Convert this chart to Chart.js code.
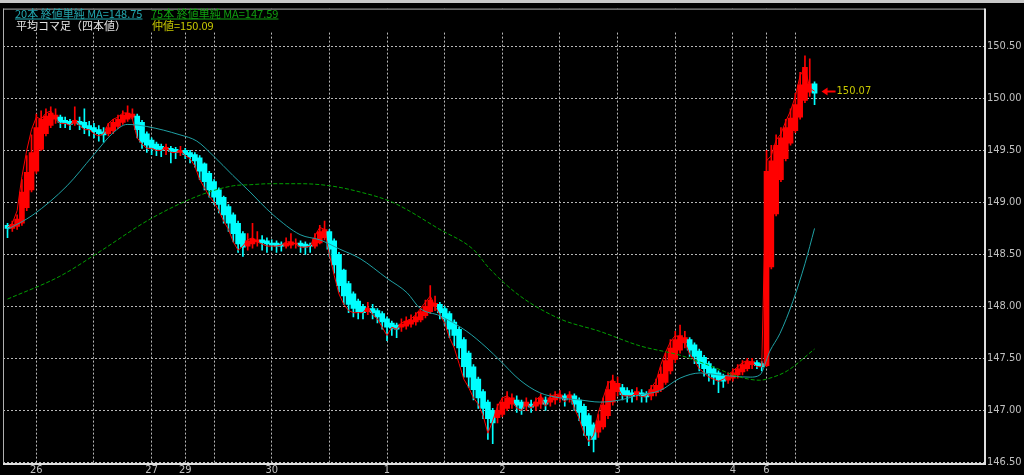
<!DOCTYPE html>
<html>
<head>
<meta charset="utf-8">
<script src="https://cdn.jsdelivr.net/npm/chart.js@4.4.0/dist/chart.umd.min.js"></script>
<style>
  html, body { margin: 0; padding: 0; background: #000; overflow: hidden; }
  canvas { display: block; }
</style>
</head>
<body>
<canvas id="chart" width="1024" height="475"></canvas>
<script>
// Heikin-Ashi candles, one per hour (index 0 = 25th 18:00)
const candleOpen = [
  148.78, 148.75, 148.77, 148.80, 148.95, 149.12, 149.30, 149.51, 149.66, 149.74,
  149.80, 149.82, 149.79, 149.78, 149.76, 149.78, 149.77, 149.74, 149.72, 149.70,
  149.68, 149.66, 149.69, 149.73, 149.77, 149.80, 149.82, 149.83, 149.77, 149.66,
  149.60, 149.56, 149.54, 149.51, 149.52, 149.51, 149.48, 149.50, 149.48, 149.46,
  149.43, 149.37, 149.28, 149.20, 149.12, 149.05, 148.96, 148.88, 148.80, 148.70,
  148.58, 148.60, 148.62, 148.64, 148.63, 148.61, 148.61, 148.60, 148.58, 148.59,
  148.60, 148.61, 148.60, 148.59, 148.58, 148.61, 148.66, 148.72, 148.63, 148.50,
  148.35, 148.22, 148.12, 148.05, 148.00, 147.95, 147.98, 147.96, 147.93, 147.88,
  147.84, 147.82, 147.80, 147.81, 147.83, 147.85, 147.87, 147.91, 147.95, 148.00,
  148.02, 147.98, 147.93, 147.85, 147.78, 147.68, 147.55, 147.42, 147.30, 147.18,
  147.08, 147.00, 146.93, 146.96, 147.02, 147.06, 147.10, 147.08, 147.04, 147.06,
  147.04, 147.06, 147.10, 147.08, 147.10, 147.12, 147.14, 147.12, 147.14, 147.10,
  147.04, 146.95, 146.86, 146.79, 146.84, 146.95, 147.08, 147.18, 147.22, 147.19,
  147.17, 147.15, 147.17, 147.16, 147.14, 147.17, 147.20, 147.27, 147.38, 147.49,
  147.58, 147.65, 147.68, 147.63, 147.57, 147.51, 147.45, 147.40, 147.36, 147.33,
  147.29, 147.31, 147.34, 147.37, 147.40, 147.44, 147.46, 147.45, 147.43, 148.38,
  148.89, 149.22, 149.42, 149.57, 149.69, 149.82, 149.98, 150.06, 150.14
];
const candleClose = [
  148.75, 148.79, 148.84, 149.10, 149.29, 149.48, 149.72, 149.80, 149.83, 149.86,
  149.84, 149.77, 149.76, 149.75, 149.79, 149.75, 149.72, 149.70, 149.68, 149.66,
  149.65, 149.72, 149.77, 149.80, 149.84, 149.86, 149.85, 149.70, 149.58, 149.55,
  149.52, 149.51, 149.50, 149.53, 149.49, 149.48, 149.50, 149.46, 149.44, 149.40,
  149.30, 149.20, 149.12, 149.05, 148.98, 148.88, 148.80, 148.70, 148.60, 148.57,
  148.63, 148.65, 148.64, 148.61, 148.60, 148.59, 148.58, 148.58, 148.61, 148.62,
  148.61, 148.58, 148.57, 148.58, 148.65, 148.72, 148.74, 148.55, 148.40, 148.20,
  148.10, 148.02, 147.98, 147.95, 147.94, 147.98, 147.94, 147.90, 147.85, 147.80,
  147.79, 147.78, 147.83, 147.86, 147.87, 147.90, 147.95, 148.00, 148.06, 148.03,
  147.94, 147.88, 147.78, 147.72, 147.60, 147.42, 147.32, 147.20, 147.12, 147.02,
  146.92, 146.88, 147.00, 147.08, 147.12, 147.12, 147.05, 147.02, 147.08, 147.03,
  147.08, 147.12, 147.06, 147.12, 147.14, 147.15, 147.10, 147.15, 147.06, 146.98,
  146.85, 146.76, 146.72, 146.90, 147.05, 147.20, 147.28, 147.26, 147.15, 147.14,
  147.14, 147.18, 147.14, 147.13, 147.20, 147.24, 147.35, 147.48, 147.60, 147.68,
  147.72, 147.70, 147.58, 147.52, 147.45, 147.40, 147.35, 147.32, 147.29, 147.28,
  147.33, 147.36, 147.40, 147.44, 147.47, 147.47, 147.43, 147.42, 149.30, 149.40,
  149.55, 149.62, 149.72, 149.81, 149.94, 150.13, 150.30, 150.14, 150.05
];
const candleHigh = [
  148.80, 148.82, 148.88, 149.22, 149.45, 149.65, 149.85, 149.88, 149.90, 149.92,
  149.90, 149.84, 149.82, 149.80, 149.92, 149.82, 149.90, 149.78, 149.76, 149.74,
  149.72, 149.76, 149.80, 149.84, 149.88, 149.93, 149.90, 149.85, 149.79, 149.68,
  149.62, 149.58, 149.56, 149.56, 149.54, 149.53, 149.54, 149.52, 149.50, 149.48,
  149.45, 149.38, 149.30, 149.22, 149.14, 149.06, 148.98, 148.90, 148.82, 148.72,
  148.70, 148.80, 148.72, 148.68, 148.66, 148.64, 148.63, 148.62, 148.66, 148.70,
  148.65, 148.63, 148.62, 148.61, 148.70, 148.78, 148.82, 148.74, 148.65, 148.52,
  148.36, 148.24, 148.14, 148.07, 148.02, 148.04, 148.02, 147.98, 147.95, 147.90,
  147.86, 147.84, 147.88, 147.90, 147.92, 147.94, 147.98, 148.06, 148.20, 148.10,
  148.04, 148.00, 147.95, 147.87, 147.80, 147.70, 147.57, 147.44, 147.32, 147.20,
  147.10, 147.02, 147.06, 147.12, 147.18, 147.16, 147.14, 147.10, 147.12, 147.10,
  147.12, 147.16, 147.13, 147.16, 147.18, 147.19, 147.16, 147.18, 147.16, 147.12,
  147.06, 146.97, 146.88, 146.96, 147.12, 147.28, 147.34, 147.32, 147.25, 147.22,
  147.20, 147.22, 147.20, 147.18, 147.24, 147.30, 147.42, 147.55, 147.68, 147.76,
  147.82, 147.76, 147.70, 147.65, 147.59, 147.53, 147.47, 147.42, 147.38, 147.35,
  147.36, 147.40, 147.44, 147.48, 147.50, 147.50, 147.48, 147.47, 149.50, 149.55,
  149.65, 149.72, 149.80, 149.90, 150.05, 150.25, 150.41, 150.38, 150.16
];
const candleLow = [
  148.66, 148.72, 148.74, 148.78, 148.92, 149.10, 149.28, 149.50, 149.64, 149.72,
  149.76, 149.72, 149.72, 149.70, 149.74, 149.70, 149.66, 149.64, 149.62, 149.59,
  149.58, 149.64, 149.66, 149.71, 149.75, 149.78, 149.80, 149.62, 149.52, 149.48,
  149.46, 149.45, 149.44, 149.46, 149.38, 149.42, 149.45, 149.42, 149.38, 149.34,
  149.22, 149.12, 149.05, 148.98, 148.90, 148.80, 148.72, 148.62, 148.52, 148.48,
  148.54, 148.56, 148.58, 148.54, 148.52, 148.54, 148.52, 148.53, 148.56, 148.56,
  148.56, 148.52, 148.50, 148.52, 148.56, 148.60, 148.64, 148.48, 148.32, 148.14,
  148.02, 147.94, 147.90, 147.88, 147.88, 147.92, 147.88, 147.84, 147.78, 147.67,
  147.72, 147.70, 147.76, 147.78, 147.80, 147.82, 147.85, 147.89, 147.93, 147.96,
  147.88, 147.82, 147.70, 147.62, 147.50, 147.32, 147.22, 147.10, 147.02, 146.92,
  146.72, 146.68, 146.88, 146.94, 147.00, 147.02, 146.98, 146.96, 147.00, 146.98,
  147.00, 147.02, 147.00, 147.04, 147.06, 147.08, 147.04, 147.08, 147.00, 146.90,
  146.76, 146.66, 146.60, 146.74, 146.82, 146.92, 147.05, 147.14, 147.10, 147.08,
  147.08, 147.10, 147.08, 147.08, 147.10, 147.14, 147.18, 147.25, 147.35, 147.46,
  147.55, 147.60, 147.52, 147.45, 147.38, 147.33, 147.28, 147.25, 147.17, 147.22,
  147.26, 147.28, 147.31, 147.34, 147.38, 147.40, 147.40, 147.38, 147.42, 148.36,
  148.87, 149.20, 149.40, 149.55, 149.67, 149.80, 149.96, 150.02, 149.94
];
// plain closing price (thin red line)
const priceClose = [
  148.76, 148.80, 148.92, 149.25, 149.50, 149.70, 149.82, 149.80, 149.86, 149.88,
  149.80, 149.76, 149.76, 149.74, 149.80, 149.74, 149.70, 149.70, 149.66, 149.64,
  149.66, 149.76, 149.80, 149.82, 149.86, 149.86, 149.80, 149.62, 149.56, 149.52,
  149.52, 149.50, 149.50, 149.54, 149.48, 149.48, 149.50, 149.45, 149.42, 149.35,
  149.22, 149.14, 149.06, 149.00, 148.92, 148.82, 148.74, 148.62, 148.54, 148.58,
  148.64, 148.66, 148.62, 148.60, 148.58, 148.58, 148.58, 148.59, 148.62, 148.62,
  148.60, 148.57, 148.57, 148.58, 148.68, 148.76, 148.74, 148.50, 148.30, 148.12,
  148.02, 147.96, 147.94, 147.94, 147.94, 148.00, 147.92, 147.88, 147.80, 147.72,
  147.80, 147.78, 147.84, 147.86, 147.88, 147.92, 147.98, 148.04, 148.10, 148.00,
  147.92, 147.84, 147.70, 147.60, 147.45, 147.30, 147.22, 147.12, 147.06, 146.95,
  146.78, 146.90, 147.04, 147.12, 147.14, 147.10, 147.02, 147.00, 147.08, 147.02,
  147.10, 147.14, 147.04, 147.14, 147.15, 147.16, 147.08, 147.16, 147.02, 146.92,
  146.78, 146.70, 146.76, 146.98, 147.12, 147.26, 147.30, 147.22, 147.14, 147.14,
  147.14, 147.18, 147.13, 147.14, 147.22, 147.28, 147.44, 147.56, 147.66, 147.72,
  147.70, 147.66, 147.54, 147.48, 147.40, 147.36, 147.32, 147.30, 147.28, 147.30,
  147.34, 147.38, 147.42, 147.46, 147.48, 147.46, 147.42, 147.42, 149.40, 149.45,
  149.60, 149.66, 149.78, 149.88, 150.02, 150.22, 150.30, 150.10, 150.07
];

// moving averages read at candle positions
const ma20Idx = [0, 5.3, 12.4, 17.8, 22, 24.9, 29, 35.9, 39.4, 42.8, 46.9, 50.5, 52.6, 55.3, 60.9, 65,
  69.2, 73.4, 79, 83.2, 85.9, 90, 95.6, 99.8, 102.5, 106.7, 110.8, 115, 119.2, 123.3, 127.5, 131.7,
  135.8, 140, 144.2, 148.3, 154.6, 156.6, 158.7, 160.8, 163.5, 166, 168];
const ma20 = [148.74, 148.88, 149.16, 149.45, 149.67, 149.75, 149.73, 149.65, 149.59, 149.45, 149.26, 149.10, 149.00, 148.88, 148.69, 148.64,
  148.55, 148.46, 148.27, 148.13, 147.98, 147.91, 147.76, 147.60, 147.48, 147.29, 147.17, 147.12, 147.10, 147.08, 147.10, 147.15,
  147.19, 147.31, 147.36, 147.34, 147.32, 147.34, 147.57, 147.74, 148.05, 148.41, 148.75];
const ma75Idx = [0, 10.9, 19.3, 29.7, 40.1, 47, 50.5, 54.6, 60.9, 67.1, 73.4, 80.2, 90, 96.9, 100.4, 106.7,
  115, 123.3, 131.7, 140, 146.2, 152.5, 156.6, 158.7, 162.3, 168];
const ma75 = [148.07, 148.29, 148.53, 148.84, 149.07, 149.16, 149.17, 149.18, 149.18, 149.16, 149.10, 149.00, 148.74, 148.55, 148.36, 148.10,
  147.88, 147.76, 147.62, 147.53, 147.43, 147.32, 147.29, 147.31, 147.38, 147.59];

// axis ticks
const gridIdx = [6, 18, 30, 37, 43, 55, 67, 79, 91, 103, 115, 127, 139, 151, 158, 164];
const gridLabels = ['26', '', '27', '29', '', '30', '', '1', '', '2', '', '3', '', '4', '6', ''];
const yTicks = [146.5, 147, 147.5, 148, 148.5, 149, 149.5, 150, 150.5];
const lastPrice = 150.07;

const UP = '#ff0000';
const DOWN = '#00ffff';
const axisFont = { family: '"Liberation Sans Narrow", "DejaVu Sans Condensed", sans-serif', size: 11 };
const candleColor = (c) => candleClose[c.dataIndex] >= candleOpen[c.dataIndex] ? UP : DOWN;

const chartBits = {
  id: 'chartBits',
  beforeDraw(chart) {
    const c = chart.ctx;
    c.save();
    c.fillStyle = '#000';
    c.fillRect(0, 0, chart.width, chart.height);
    c.fillStyle = '#c8c8c8';
    c.fillRect(0, 0, chart.width, 3);
    c.restore();
  },
  beforeDatasetsDraw(chart) {
    // vertical grid lines stop below the legend area
    const a = chart.chartArea, c = chart.ctx;
    c.save();
    c.fillStyle = '#000';
    c.fillRect(a.left, a.top, a.right - a.left, 31 - a.top);
    c.restore();
  },
  afterDraw(chart) {
    const a = chart.chartArea, c = chart.ctx;
    c.save();
    c.strokeStyle = '#b0b0b0';
    c.lineWidth = 1;
    c.beginPath();
    c.moveTo(a.left + 0.5, a.top);
    c.lineTo(a.left + 0.5, a.bottom);
    c.moveTo(a.left, a.top + 0.5);
    c.lineTo(a.right, a.top + 0.5);
    c.stroke();
    c.strokeStyle = '#e0e0e0';
    c.lineWidth = 2;
    c.beginPath();
    c.moveTo(a.right, a.top);
    c.lineTo(a.right, a.bottom + 1);
    c.lineTo(a.left, a.bottom + 1);
    c.stroke();

    // legend
    c.font = '11px "Noto Sans CJK JP"';
    c.textBaseline = 'middle';
    c.textAlign = 'left';
    const rows = [
      ['20本 終値単純 MA=148.75', '#22a8b0', 15, 13.5, true],
      ['75本 終値単純 MA=147.59', '#10a010', 151, 13.5, true],
      ['平均コマ足（四本値）', '#e6e6e6', 16, 26, false],
      ['仲値=150.09', '#c8c800', 152, 26, false]
    ];
    rows.forEach(([t, col, x, y, ul]) => {
      c.fillStyle = col;
      c.fillText(t, x, y);
      if (ul) {
        const w = c.measureText(t).width;
        c.fillRect(x, y + 5, w, 1);
      }
    });

    // last price marker
    const px = chart.scales.x.getPixelForValue(candleClose.length - 1) + 7;
    const py = Math.round(chart.scales.y.getPixelForValue(lastPrice)) + 0.5;
    c.strokeStyle = UP;
    c.fillStyle = UP;
    c.lineWidth = 2;
    c.beginPath();
    c.moveTo(px + 3, py);
    c.lineTo(px + 14, py);
    c.stroke();
    c.beginPath();
    c.moveTo(px, py);
    c.lineTo(px + 6, py - 4);
    c.lineTo(px + 6, py + 4);
    c.closePath();
    c.fill();
    c.font = '11px "Liberation Sans Narrow", "DejaVu Sans Condensed", sans-serif';
    c.fillStyle = '#c8c800';
    c.fillText(lastPrice.toFixed(2), px + 15, py);
    c.restore();
  }
};

const ctx = document.getElementById('chart');

new Chart(ctx, {
  type: 'bar',
  data: {
    datasets: [
      {
        type: 'line',
        data: ma75Idx.map((x, i) => ({ x, y: ma75[i] })),
        borderColor: '#00a000',
        borderWidth: 1,
        borderDash: [4, 2],
        pointRadius: 0,
        cubicInterpolationMode: 'monotone',
        order: 1,
      },
      {
        type: 'line',
        data: ma20Idx.map((x, i) => ({ x, y: ma20[i] })),
        borderColor: '#1fa0a4',
        borderWidth: 1,
        pointRadius: 0,
        cubicInterpolationMode: 'monotone',
        order: 2,
      },
      {
        type: 'line',
        data: priceClose.map((y, i) => ({ x: i, y })),
        borderColor: UP,
        borderWidth: 1,
        pointRadius: 0,
        tension: 0,
        order: 3,
      },
      {
        data: candleOpen.map((o, i) => ({ x: i, y: [o, candleClose[i]] })),
        backgroundColor: candleColor,
        borderWidth: 0,
        barThickness: 5,
        minBarLength: 1,
        grouped: false,
        order: 4,
      },
      {
        data: candleLow.map((l, i) => ({ x: i, y: [l, candleHigh[i]] })),
        backgroundColor: candleColor,
        borderWidth: 0,
        barThickness: 1,
        grouped: false,
        order: 5,
      },
    ],
  },
  options: {
    responsive: false,
    animation: false,
    layout: { padding: { top: 4.5, left: 3, right: 0, bottom: 0 } },
    plugins: { legend: { display: false }, tooltip: { enabled: false } },
    scales: {
      x: {
        type: 'linear',
        offset: false,
        min: -0.94,
        max: 203.48,
        afterBuildTicks: (s) => { s.ticks = gridIdx.map((v) => ({ value: v })); },
        afterFit: (s) => { s.height = 12; },
        ticks: {
          autoSkip: false,
          maxRotation: 0,
          minRotation: 0,
          padding: 1,
          color: '#c0c0c0',
          font: axisFont,
          callback: (v) => gridLabels[gridIdx.indexOf(v)],
        },
        grid: { offset: false, color: '#b8b8b8', lineWidth: 1, drawTicks: false },
        border: { display: false, dash: [2, 2] },
      },
      y: {
        position: 'right',
        min: 146.494,
        max: 150.864,
        afterBuildTicks: (s) => { s.ticks = yTicks.map((v) => ({ value: v })); },
        afterFit: (s) => { s.width = 39; },
        ticks: {
          padding: 2,
          color: '#c0c0c0',
          font: axisFont,
          callback: (v) => v.toFixed(2),
        },
        grid: { color: '#b8b8b8', lineWidth: 1, drawTicks: false },
        border: { display: false, dash: [2, 2] },
      },
    },
  },
  plugins: [chartBits],
});
</script>
</body>
</html>
